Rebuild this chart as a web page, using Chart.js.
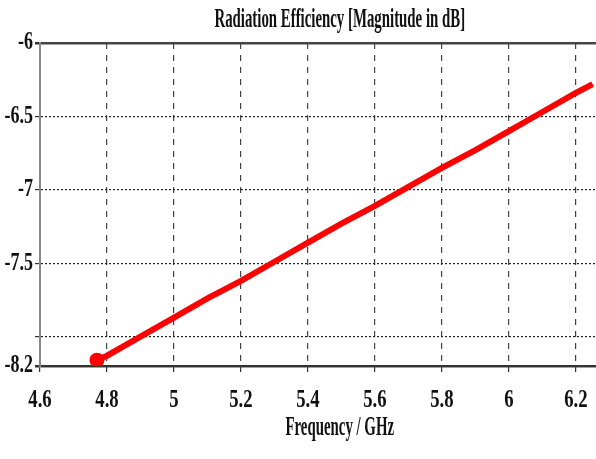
<!DOCTYPE html>
<html>
<head>
  <title>Radiation Efficiency</title>
  <script src="https://cdn.jsdelivr.net/npm/chart.js"></script>
  <style>
    body {
      margin: 0;
      overflow: hidden;
      background: #fff;
    }
    .chart-box {
      width: 650px;
      height: 459px;
    }
  </style>
</head>
<body>
  <div class="chart-box">
    <canvas id="effChart"></canvas>
  </div>
  <script>
    // values
    var freqGHz = [4.77, 4.8, 4.9, 5.0, 5.1, 5.2, 5.3, 5.4, 5.5, 5.6, 5.7, 5.8, 5.9, 6.0, 6.1, 6.2, 6.25]
    var effDB = [-8.16, -8.13, -8.00, -7.87, -7.74, -7.62, -7.49, -7.36, -7.23, -7.11, -6.98, -6.85, -6.73, -6.60, -6.47, -6.34, -6.28]
    var xTicks = [4.6, 4.8, 5.0, 5.2, 5.4, 5.6, 5.8, 6.0, 6.2]
    var yTicks = [-6, -6.5, -7, -7.5, -8, -8.2]
    var yHiddenLabels = [-8]

    var serif = "'Liberation Serif', 'Times New Roman', serif"

    const points = freqGHz.map((f, i) => ({ x: f, y: effDB[i] }))

    const ctx = document.getElementById('effChart').getContext('2d');

    // the original uses a tall, narrow Times face: squeeze text sideways
    const plainFill = ctx.fillText.bind(ctx)
    ctx.fillText = function (text, x, y) {
      var sx = this.font.indexOf('28px') >= 0 ? 0.53 : 0.72
      this.save()
      this.translate(x, y)
      this.scale(sx, 1)
      plainFill(text, 0, 0)
      this.restore()
    }

    const chart = new Chart(ctx, {
      type: 'line',
      data: {
        datasets: [{
          label: 'Radiation Efficiency',
          data: points,
          borderColor: '#ff0000',
          backgroundColor: '#ff0000',
          borderWidth: 6,
          pointRadius: c => c.dataIndex === 0 ? 4.5 : 0,
          pointHoverRadius: 0,
          fill: false,
          tension: 0
        }]
      },
      options: {
        responsive: true,
        maintainAspectRatio: false,
        animation: false,
        layout: { padding: 0 },
        plugins: {
          legend: { display: false },
          tooltip: { enabled: false },
          title: {
            display: true,
            fullSize: false,
            text: 'Radiation Efficiency [Magnitude in dB]',
            color: '#111',
            font: { family: serif, size: 28, weight: 'bold', lineHeight: 1 },
            padding: { top: 6, bottom: 9 }
          }
        },
        scales: {
          x: {
            type: 'linear',
            min: 4.6,
            max: 6.39,
            afterBuildTicks: s => { s.ticks = xTicks.map(v => ({ value: v })) },
            afterFit: s => { s.height = 93 },
            ticks: {
              color: '#111',
              padding: 15,
              font: { family: serif, size: 26, weight: 'bold', lineHeight: 1 },
              callback: v => String(Math.round(v * 10) / 10)
            },
            grid: {
              color: c => c.tick && c.tick.value === 4.6 ? 'rgba(0,0,0,0)' : '#444',
              tickColor: '#333',
              lineWidth: 1.2,
              tickLength: 6
            },
            border: { color: '#333', width: 2, dash: [6, 6] },
            title: {
              display: true,
              text: 'Frequency / GHz',
              color: '#111',
              font: { family: serif, size: 28, weight: 'bold', lineHeight: 1 },
              padding: { top: 2, bottom: 17 }
            }
          },
          y: {
            min: -8.2,
            max: -6,
            afterBuildTicks: s => { s.ticks = yTicks.map(v => ({ value: v })) },
            afterFit: s => { s.width = 40 },
            ticks: {
              color: '#111',
              padding: 2,
              font: { family: serif, size: 25, weight: 'bold', lineHeight: 1 },
              callback: v => yHiddenLabels.includes(v) ? '' : String(v)
            },
            grid: {
              color: c => {
                if (!c.tick) return '#222'
                var v = c.tick.value
                if (v === -6 || v === -8.2) return '#444'
                return '#222'
              },
              lineWidth: c => c.tick && (c.tick.value === -6 || c.tick.value === -8.2) ? 2.5 : 1.2,
              tickColor: '#333',
              tickLength: 5
            },
            border: {
              color: '#888',
              width: 2,
              dash: c => c.tick && (c.tick.value === -6 || c.tick.value === -8.2) ? [] : [2, 2]
            }
          }
        }
      }
    });
  </script>
</body>
</html>
